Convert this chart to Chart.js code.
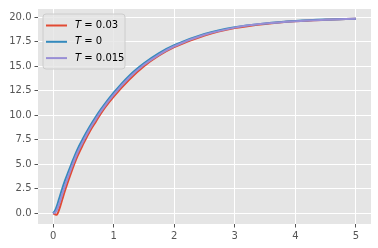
<!DOCTYPE html>
<html>
<head>
<meta charset="utf-8">
<script src="https://cdn.jsdelivr.net/npm/chart.js@4"></script>
<style>
  html, body { margin: 0; padding: 0; background: #fff; }
  canvas { display: block; }
</style>
</head>
<body>
<canvas id="myChart" width="378" height="248"></canvas>
<script>
// time samples (x) and the three curves
const t = [0, 0.03, 0.06, 0.1, 0.15, 0.2, 0.3, 0.4, 0.5, 0.6, 0.7, 0.8, 1.0, 1.25, 1.5, 1.75, 2, 2.5, 3, 3.5, 4, 4.5, 5];
const yT003 = [0, -0.1, -0.15, 0.4, 1.4, 2.4, 4.2, 5.8, 7.1, 8.3, 9.3, 10.3, 11.9, 13.6, 15.0, 16.1, 16.95, 18.15, 18.9, 19.33, 19.6, 19.75, 19.85];
const yT0 = [0, 0.25, 0.7, 1.5, 2.5, 3.4, 5.0, 6.5, 7.7, 8.8, 9.8, 10.7, 12.3, 14.0, 15.3, 16.35, 17.15, 18.3, 19.0, 19.38, 19.62, 19.77, 19.86];
const yT0015 = [0, 0.05, 0.3, 0.95, 1.95, 2.9, 4.6, 6.15, 7.4, 8.55, 9.55, 10.5, 12.1, 13.8, 15.15, 16.2, 17.05, 18.22, 18.95, 19.36, 19.61, 19.76, 19.86];
const labels = ['0.03', '0', '0.015'];
const xTicks = [0, 1, 2, 3, 4, 5];
const yTicks = [0, 2.5, 5, 7.5, 10, 12.5, 15, 17.5, 20];

const colors = ['#E24A33', '#348ABD', '#988ED5'];
const series = [yT003, yT0, yT0015];

const toPts = ys => ys.map((y, i) => ({x: t[i], y: y}));

// gray axes background
const bgPlugin = {
  id: 'bg',
  beforeDraw(chart) {
    const {ctx, chartArea: a} = chart;
    ctx.save();
    ctx.fillStyle = '#E5E5E5';
    ctx.fillRect(a.left, a.top, a.right - a.left, a.bottom - a.top);
    ctx.restore();
  },
};

// matplotlib-like legend with italic T
const legendPlugin = {
  id: 'mplLegend',
  afterDraw(chart) {
    const {ctx, chartArea: a} = chart;
    const x0 = a.left + 5, y0 = a.top + 5, w = 82, h = 55;
    ctx.save();
    ctx.beginPath();
    ctx.roundRect(x0, y0, w, h, 3);
    ctx.fillStyle = 'rgba(229,229,229,0.8)';
    ctx.fill();
    ctx.strokeStyle = '#CCCCCC';
    ctx.lineWidth = 1;
    ctx.stroke();
    ctx.textBaseline = 'middle';
    labels.forEach((lab, i) => {
      const y = y0 + 11.5 + i * 16.3;
      ctx.strokeStyle = colors[i];
      ctx.lineWidth = 2;
      ctx.beginPath();
      ctx.moveTo(x0 + 3, y);
      ctx.lineTo(x0 + 24, y);
      ctx.stroke();
      ctx.fillStyle = '#000';
      ctx.font = 'italic 10px "DejaVu Sans"';
      ctx.fillText('T', x0 + 32, y);
      const tw = ctx.measureText('T').width;
      ctx.font = '10px "DejaVu Sans"';
      ctx.fillText(' = ' + lab, x0 + 32 + tw, y);
    });
    ctx.restore();
  },
};

const ctx = document.getElementById('myChart');

new Chart(ctx, {
  type: 'line',
  data: {
    datasets: series.map((ys, i) => ({
      label: 'T = ' + labels[i],
      data: toPts(ys),
      borderColor: colors[i],
      borderWidth: 2,
      pointRadius: 0,
      cubicInterpolationMode: 'monotone',
      fill: false,
      order: 3 - i,
    })),
  },
  options: {
    responsive: false,
    animation: false,
    layout: {padding: {left: 0, right: 7, top: 7, bottom: 0}},
    plugins: {legend: {display: false}, tooltip: {enabled: false}},
    scales: {
      x: {
        type: 'linear',
        min: -0.25,
        max: 5.25,
        afterBuildTicks: s => { s.ticks = xTicks.map(v => ({value: v})); },
        afterFit: s => { s.height = 24; },
        grid: {color: '#FFFFFF', lineWidth: 1, tickLength: 3.5, tickColor: '#555555', tickWidth: 1},
        border: {display: false},
        ticks: {
          color: '#555555',
          padding: 3,
          maxRotation: 0,
          font: {family: 'DejaVu Sans', size: 10},
          callback: v => String(v),
        },
      },
      y: {
        min: -1.1,
        max: 20.85,
        afterBuildTicks: s => { s.ticks = yTicks.map(v => ({value: v})); },
        afterFit: s => { s.width = 38; },
        grid: {color: '#FFFFFF', lineWidth: 1, tickLength: 3.5, tickColor: '#555555', tickWidth: 1},
        border: {display: false},
        ticks: {
          color: '#555555',
          padding: 3,
          font: {family: 'DejaVu Sans', size: 10},
          callback: v => v.toFixed(1),
        },
      },
    },
  },
  plugins: [bgPlugin, legendPlugin],
});
</script>
</body>
</html>
